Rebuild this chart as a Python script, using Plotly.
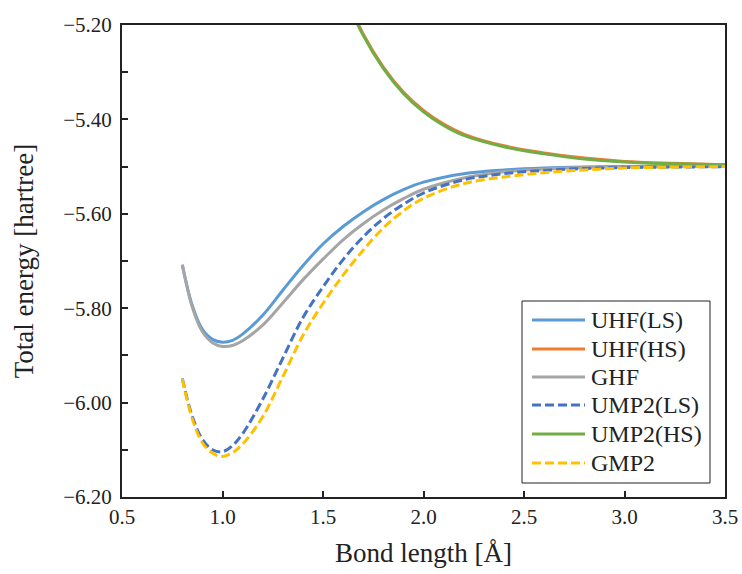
import plotly.graph_objects as go

# Bond length [Å]
x_low = [0.8, 0.85, 0.9, 0.95, 1.0, 1.05, 1.1, 1.2, 1.3, 1.4, 1.5, 1.6, 1.7, 1.8, 1.9, 2.0,
         2.2, 2.4, 2.6, 2.8, 3.0, 3.25, 3.5]
uhf_ls = [-5.708, -5.795, -5.845, -5.866, -5.872, -5.868, -5.855, -5.815, -5.762, -5.710,
          -5.664, -5.627, -5.596, -5.570, -5.549, -5.533, -5.515, -5.507, -5.503, -5.501,
          -5.500, -5.499, -5.499]
ghf = [-5.708, -5.798, -5.850, -5.873, -5.881, -5.879, -5.869, -5.836, -5.789, -5.740,
       -5.696, -5.655, -5.621, -5.592, -5.568, -5.548, -5.524, -5.511, -5.505, -5.502,
       -5.501, -5.500, -5.499]
ump2_ls = [-5.949, -6.030, -6.078, -6.100, -6.104, -6.091, -6.066, -5.993, -5.906, -5.820,
           -5.755, -5.697, -5.649, -5.610, -5.580, -5.556, -5.528, -5.515, -5.508, -5.504,
           -5.502, -5.501, -5.500]
gmp2 = [-5.950, -6.035, -6.085, -6.107, -6.114, -6.106, -6.088, -6.030, -5.945, -5.858,
        -5.790, -5.730, -5.677, -5.630, -5.594, -5.567, -5.536, -5.522, -5.513, -5.507,
        -5.503, -5.501, -5.500]

x_high = [1.5, 1.6, 1.7, 1.8, 1.9, 2.0, 2.1, 2.2, 2.4, 2.6, 2.8, 3.0, 3.25, 3.5]
ump2_hs = [-5.002, -5.128, -5.222, -5.292, -5.345, -5.384, -5.413, -5.434, -5.458, -5.473,
           -5.484, -5.490, -5.494, -5.496]
uhf_hs = [-4.999, -5.125, -5.219, -5.289, -5.342, -5.381, -5.410, -5.431, -5.456, -5.471,
          -5.482, -5.489, -5.493, -5.496]

x_ticks = [0.5, 1.0, 1.5, 2.0, 2.5, 3.0, 3.5]
y_ticks = [-6.2, -6.0, -5.8, -5.6, -5.4, -5.2]

DASH = "9px,4px"
series = [
    ("UHF(LS)", x_low, uhf_ls, "#5B9BD5", "solid"),
    ("UHF(HS)", x_high, uhf_hs, "#ED7D31", "solid"),
    ("GHF", x_low, ghf, "#A5A5A5", "solid"),
    ("UMP2(LS)", x_low, ump2_ls, "#4472C4", DASH),
    ("UMP2(HS)", x_high, ump2_hs, "#70AD47", "solid"),
    ("GMP2", x_low, gmp2, "#FFC000", DASH),
]

W, H = 742, 574
ML, MR, MT, MB = 122, 17, 25, 77
PW, PH = W - ML - MR, H - MT - MB


def px(xp):
    return (xp - ML) / PW


def py(yp):
    return (H - MB - yp) / PH


font = "Liberation Serif"
fig = go.Figure()
for name, xs, ys, color, dash in series:
    fig.add_trace(go.Scatter(
        x=xs, y=ys, name=name, mode="lines", showlegend=False,
        line=dict(color=color, width=3, dash=dash, shape="spline", smoothing=1.0),
    ))

# Legend drawn as shapes + annotations
shapes = [dict(type="rect", xref="paper", yref="paper",
               x0=px(522), x1=px(710), y0=py(483), y1=py(301),
               line=dict(color="#222", width=1), fillcolor="white", layer="above")]
annotations = []
row_y = [320, 349, 377, 405, 434, 463]
for (name, xs, ys, color, dash), ry in zip(series, row_y):
    shapes.append(dict(type="line", xref="paper", yref="paper",
                       x0=px(532), x1=px(585), y0=py(ry), y1=py(ry),
                       line=dict(color=color, width=3, dash=dash), layer="above"))
    annotations.append(dict(text=name, xref="paper", yref="paper",
                            x=px(589), y=py(ry), xanchor="left", yanchor="middle",
                            showarrow=False, font=dict(family=font, size=24, color="#222")))

fig.update_layout(
    width=W, height=H,
    margin=dict(l=ML, r=MR, t=MT, b=MB),
    paper_bgcolor="white", plot_bgcolor="white",
    font=dict(family=font, size=21, color="#222"),
    showlegend=False,
    shapes=shapes,
    annotations=annotations,
    xaxis=dict(
        range=[0.5, 3.5], tickvals=x_ticks, tickformat=".1f",
        ticks="inside", ticklen=6, tickwidth=1.5, tickcolor="#222",
        showline=True, linecolor="#222", linewidth=2, mirror=True,
        showgrid=False, zeroline=False, automargin=False,
        title=dict(text="Bond length [Å]", font=dict(family=font, size=27)),
        tickfont=dict(family=font, size=21),
    ),
    yaxis=dict(
        range=[-6.2, -5.2], tickvals=y_ticks, tickformat=".2f",
        ticks="inside", ticklen=6, tickwidth=1.5, tickcolor="#222",
        ticklabelstandoff=4,
        minor=dict(dtick=0.1, tick0=-6.2, ticks="inside", ticklen=6, tickwidth=1.5,
                   tickcolor="#222", showgrid=False),
        showline=True, linecolor="#222", linewidth=2, mirror=True,
        showgrid=False, zeroline=False, automargin=False,
        title=dict(text="Total energy [hartree]", font=dict(family=font, size=27), standoff=22),
        tickfont=dict(family=font, size=21),
    ),
)

fig.write_html("out.html")
